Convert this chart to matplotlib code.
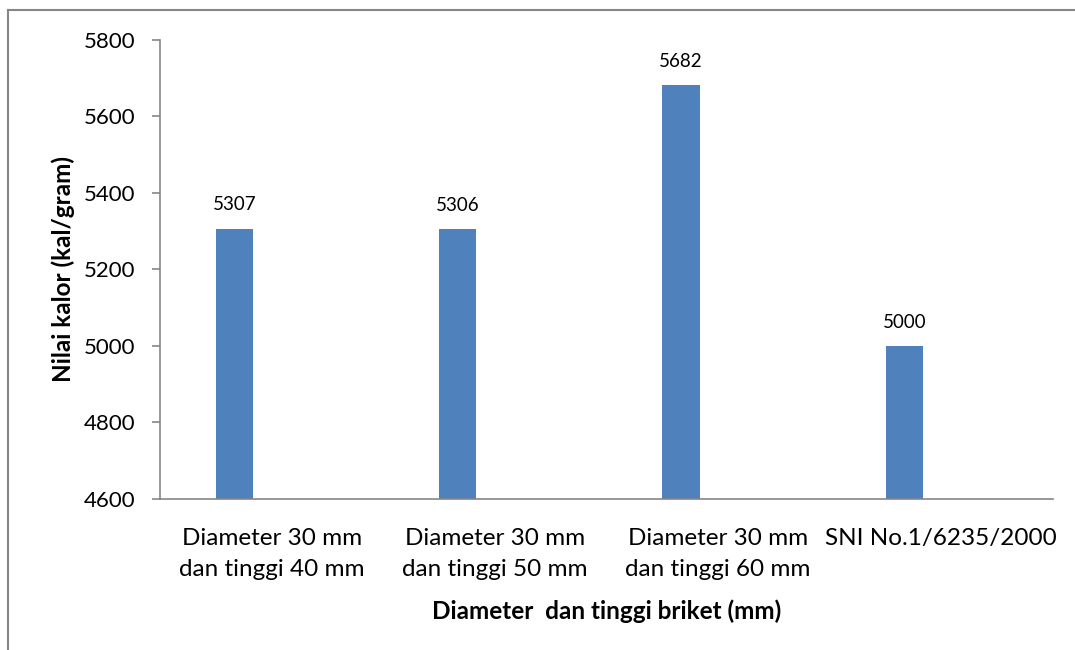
import matplotlib
matplotlib.use("Agg")
import matplotlib.pyplot as plt
from matplotlib.lines import Line2D
import numpy as np

# nilai kalor briket per ukuran
kategori = ["Diameter 30 mm\ndan tinggi 40 mm",
            "Diameter 30 mm\ndan tinggi 50 mm",
            "Diameter 30 mm\ndan tinggi 60 mm",
            "SNI No.1/6235/2000"]
nilai_kalor = [5307, 5306, 5682, 5000]
y_ticks = [4600, 4800, 5000, 5200, 5400, 5600, 5800]

plt.rcParams['font.family'] = ['Lato', 'DejaVu Sans']
abu = "#868686"
biru = "#4F81BD"

fig = plt.figure(figsize=(10.75, 6.5), dpi=100)
ax = fig.add_axes([0.1488, 0.2323, 0.8307, 0.7062])

x = np.arange(len(kategori))
lebar = 0.166
# batang digeser ke kiri dari tengah kategori (slot seri kedua kosong)
bars = ax.bar(x - lebar, nilai_kalor, width=lebar, color=biru, zorder=2)

for b, v in zip(bars, nilai_kalor):
    ax.annotate(str(v), (b.get_x() + b.get_width() / 2, v), xytext=(0, 11),
                textcoords="offset points", ha="center", va="bottom", fontsize=13.5)

ax.set_xlim(-0.5, len(kategori) - 0.5)
ax.set_ylim(4600, 5800)
ax.set_yticks(y_ticks)
ax.set_xticks(x)
ax.set_xticklabels(kategori, fontsize=17.5, linespacing=1.55)
ax.tick_params(axis="y", labelsize=16, length=6, color=abu, width=1.2, pad=12)
ax.tick_params(axis="x", length=0, pad=21)

for s in ["top", "right"]:
    ax.spines[s].set_visible(False)
for s in ["left", "bottom"]:
    ax.spines[s].set_color(abu)
    ax.spines[s].set_linewidth(1.2)

ax.set_ylabel("Nilai kalor (kal/gram)", fontsize=17.5, fontweight="bold", labelpad=6)
ax.set_xlabel("Diameter  dan tinggi briket (mm)", fontsize=17.5, fontweight="bold", labelpad=14)

# bingkai luar
fig.add_artist(Line2D([8 / 1075, 8 / 1075], [0, 1 - 10 / 650], transform=fig.transFigure, color=abu, lw=1.5))
fig.add_artist(Line2D([8 / 1075, 1], [1 - 10 / 650, 1 - 10 / 650], transform=fig.transFigure, color=abu, lw=1.5))

fig.savefig("out.png", dpi=100)
